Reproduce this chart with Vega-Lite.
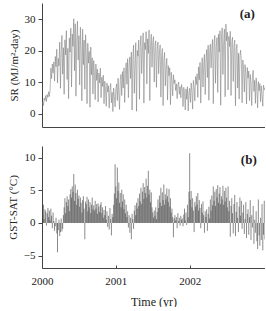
{
"$schema": "https://vega.github.io/schema/vega-lite/v6.json",
"padding": {"left": 7, "top": 3, "right": 0, "bottom": 0},
"config": {
 "view": {"stroke": null},
 "font": "Liberation Serif",
 "concat": {"spacing": 19},
 "axis": {"grid": false, "domainColor": "#444", "tickColor": "#444", "labelColor": "#222", "titleColor": "#222", "labelFontSize": 11, "titleFontSize": 11, "titleFontWeight": "normal", "labelFont": "Liberation Serif", "titleFont": "Liberation Serif", "labelFlush": false}
},
"datasets": {"d": [
{"t":2000.00,"s":1.5,"d":3.5},{"t":2000.01,"s":3.8,"d":1.2},{"t":2000.02,"s":2.6,"d":2.8},{"t":2000.03,"s":5.0,"d":0.6},{"t":2000.04,"s":4.2,"d":2.1},{"t":2000.05,"s":5.8,"d":1.8},{"t":2000.06,"s":3.9,"d":-0.4},{"t":2000.07,"s":6.1,"d":1.5},{"t":2000.08,"s":5.2,"d":2.3},{"t":2000.09,"s":7.0,"d":0.9},
{"t":2000.10,"s":5.5,"d":1.9},{"t":2000.11,"s":7.8,"d":0.4},{"t":2000.12,"s":14.5,"d":2.2},{"t":2000.13,"s":11.2,"d":1.1},{"t":2000.14,"s":15.8,"d":-0.8},{"t":2000.15,"s":13.0,"d":1.6},{"t":2000.16,"s":16.5,"d":0.3},{"t":2000.17,"s":10.4,"d":-1.2},{"t":2000.18,"s":18.2,"d":-0.5},{"t":2000.19,"s":14.9,"d":0.8},
{"t":2000.20,"s":20.5,"d":-1.6},{"t":2000.21,"s":9.8,"d":-4.5},{"t":2000.22,"s":17.6,"d":-1.1},{"t":2000.23,"s":15.2,"d":0.5},{"t":2000.24,"s":22.8,"d":-2.0},{"t":2000.25,"s":8.1,"d":-1.4},{"t":2000.26,"s":19.4,"d":0.7},{"t":2000.27,"s":24.9,"d":-1.3},{"t":2000.28,"s":12.6,"d":-0.9},{"t":2000.29,"s":21.0,"d":1.2},
{"t":2000.30,"s":6.2,"d":2.4},{"t":2000.31,"s":23.5,"d":3.8},{"t":2000.32,"s":18.7,"d":1.5},{"t":2000.33,"s":26.4,"d":3.2},{"t":2000.34,"s":10.9,"d":4.1},{"t":2000.35,"s":20.8,"d":2.6},{"t":2000.36,"s":4.8,"d":3.6},{"t":2000.37,"s":24.1,"d":1.8},{"t":2000.38,"s":19.6,"d":4.4},{"t":2000.39,"s":27.2,"d":5.2},
{"t":2000.40,"s":8.5,"d":3.9},{"t":2000.41,"s":25.3,"d":5.6},{"t":2000.42,"s":21.4,"d":4.8},{"t":2000.43,"s":30.2,"d":7.5},{"t":2000.44,"s":13.7,"d":3.4},{"t":2000.45,"s":28.6,"d":5.9},{"t":2000.46,"s":5.6,"d":4.6},{"t":2000.47,"s":22.9,"d":2.8},{"t":2000.48,"s":29.4,"d":5.1},{"t":2000.49,"s":17.1,"d":3.7},
{"t":2000.50,"s":24.8,"d":4.2},{"t":2000.51,"s":9.2,"d":2.5},{"t":2000.52,"s":27.5,"d":3.9},{"t":2000.53,"s":20.3,"d":3.1},{"t":2000.54,"s":4.1,"d":1.6},{"t":2000.55,"s":26.9,"d":3.5},{"t":2000.56,"s":15.6,"d":4.1},{"t":2000.57,"s":23.4,"d":2.2},{"t":2000.58,"s":7.8,"d":-2.5},{"t":2000.59,"s":25.1,"d":3.3},
{"t":2000.60,"s":18.9,"d":2.9},{"t":2000.61,"s":3.2,"d":4.0},{"t":2000.62,"s":22.4,"d":1.8},{"t":2000.63,"s":16.1,"d":3.6},{"t":2000.64,"s":19.8,"d":2.4},{"t":2000.65,"s":2.1,"d":3.2},{"t":2000.66,"s":21.2,"d":1.5},{"t":2000.67,"s":12.4,"d":2.8},{"t":2000.68,"s":17.8,"d":3.9},{"t":2000.69,"s":6.3,"d":2.1},
{"t":2000.70,"s":16.9,"d":2.7},{"t":2000.71,"s":13.2,"d":1.9},{"t":2000.72,"s":4.5,"d":3.4},{"t":2000.73,"s":15.8,"d":2.2},{"t":2000.74,"s":10.6,"d":2.9},{"t":2000.75,"s":14.2,"d":1.4},{"t":2000.76,"s":3.8,"d":3.0},{"t":2000.77,"s":12.9,"d":2.5},{"t":2000.78,"s":9.8,"d":1.7},{"t":2000.79,"s":14.5,"d":2.8},
{"t":2000.80,"s":5.1,"d":3.2},{"t":2000.81,"s":11.6,"d":1.5},{"t":2000.82,"s":8.7,"d":2.4},{"t":2000.83,"s":12.3,"d":0.8},{"t":2000.84,"s":3.2,"d":2.0},{"t":2000.85,"s":10.4,"d":1.2},{"t":2000.86,"s":7.6,"d":2.6},{"t":2000.87,"s":2.4,"d":0.5},{"t":2000.88,"s":9.8,"d":1.8},{"t":2000.89,"s":6.9,"d":-0.6},
{"t":2000.90,"s":8.9,"d":1.1},{"t":2000.91,"s":1.8,"d":-1.0},{"t":2000.92,"s":7.5,"d":2.3},{"t":2000.93,"s":9.6,"d":0.6},{"t":2000.94,"s":3.5,"d":-1.9},{"t":2000.95,"s":6.8,"d":1.4},{"t":2000.96,"s":0.7,"d":0.9},{"t":2000.97,"s":8.2,"d":2.8},{"t":2000.98,"s":5.4,"d":4.5},{"t":2000.99,"s":2.2,"d":9.0},
{"t":2001.00,"s":7.9,"d":5.6},{"t":2001.01,"s":9.5,"d":3.8},{"t":2001.02,"s":4.2,"d":8.5},{"t":2001.03,"s":11.3,"d":4.9},{"t":2001.04,"s":6.6,"d":6.2},{"t":2001.05,"s":1.4,"d":3.1},{"t":2001.06,"s":10.8,"d":4.6},{"t":2001.07,"s":12.5,"d":2.4},{"t":2001.08,"s":5.8,"d":5.1},{"t":2001.09,"s":13.4,"d":3.3},
{"t":2001.10,"s":8.2,"d":4.4},{"t":2001.11,"s":14.6,"d":2.1},{"t":2001.12,"s":3.6,"d":3.6},{"t":2001.13,"s":12.8,"d":1.5},{"t":2001.14,"s":16.2,"d":2.8},{"t":2001.15,"s":9.4,"d":0.9},{"t":2001.16,"s":17.5,"d":1.8},{"t":2001.17,"s":5.1,"d":-0.7},{"t":2001.18,"s":15.3,"d":1.2},{"t":2001.19,"s":18.1,"d":-1.5},
{"t":2001.20,"s":11.2,"d":0.8},{"t":2001.21,"s":19.6,"d":-2.5},{"t":2001.22,"s":1.2,"d":1.4},{"t":2001.23,"s":17.4,"d":0.6},{"t":2001.24,"s":21.8,"d":-0.9},{"t":2001.25,"s":6.5,"d":1.9},{"t":2001.26,"s":15.9,"d":2.7},{"t":2001.27,"s":22.6,"d":1.2},{"t":2001.28,"s":0.8,"d":3.1},{"t":2001.29,"s":20.1,"d":2.2},
{"t":2001.30,"s":18.3,"d":3.8},{"t":2001.31,"s":23.4,"d":2.6},{"t":2001.32,"s":4.6,"d":4.5},{"t":2001.33,"s":21.5,"d":3.3},{"t":2001.34,"s":24.8,"d":5.4},{"t":2001.35,"s":12.8,"d":2.9},{"t":2001.36,"s":19.9,"d":4.8},{"t":2001.37,"s":25.7,"d":6.1},{"t":2001.38,"s":3.4,"d":3.7},{"t":2001.39,"s":22.6,"d":5.5},
{"t":2001.40,"s":20.4,"d":4.6},{"t":2001.41,"s":26.1,"d":6.8},{"t":2001.42,"s":9.5,"d":3.9},{"t":2001.43,"s":23.8,"d":5.7},{"t":2001.44,"s":19.2,"d":8.0},{"t":2001.45,"s":26.6,"d":4.4},{"t":2001.46,"s":4.2,"d":5.1},{"t":2001.47,"s":21.7,"d":3.2},{"t":2001.48,"s":25.3,"d":4.7},{"t":2001.49,"s":14.8,"d":2.4},
{"t":2001.50,"s":22.9,"d":1.6},{"t":2001.51,"s":24.5,"d":0.8},{"t":2001.52,"s":10.1,"d":1.9},{"t":2001.53,"s":21.6,"d":1.1},{"t":2001.54,"s":23.2,"d":2.4},{"t":2001.55,"s":8.4,"d":0.6},{"t":2001.56,"s":20.5,"d":1.7},{"t":2001.57,"s":22.8,"d":3.6},{"t":2001.58,"s":12.7,"d":2.3},{"t":2001.59,"s":19.3,"d":4.2},
{"t":2001.60,"s":21.9,"d":3.1},{"t":2001.61,"s":5.3,"d":5.4},{"t":2001.62,"s":18.6,"d":2.6},{"t":2001.63,"s":20.7,"d":4.7},{"t":2001.64,"s":2.6,"d":3.5},{"t":2001.65,"s":17.2,"d":5.9},{"t":2001.66,"s":19.5,"d":2.8},{"t":2001.67,"s":8.9,"d":4.4},{"t":2001.68,"s":14.8,"d":3.6},{"t":2001.69,"s":17.6,"d":5.3},
{"t":2001.70,"s":4.4,"d":4.1},{"t":2001.71,"s":15.3,"d":3.2},{"t":2001.72,"s":12.1,"d":5.2},{"t":2001.73,"s":14.6,"d":2.5},{"t":2001.74,"s":2.9,"d":3.8},{"t":2001.75,"s":13.2,"d":1.6},{"t":2001.76,"s":10.5,"d":2.2},{"t":2001.77,"s":5.7,"d":0.9},{"t":2001.78,"s":12.4,"d":-2.2},{"t":2001.79,"s":9.6,"d":0.7},
{"t":2001.80,"s":10.8,"d":1.2},{"t":2001.81,"s":7.4,"d":0.4},{"t":2001.82,"s":9.5,"d":0.9},{"t":2001.83,"s":4.8,"d":-0.8},{"t":2001.84,"s":8.9,"d":1.5},{"t":2001.85,"s":10.1,"d":0.3},{"t":2001.86,"s":6.2,"d":0.8},{"t":2001.87,"s":8.6,"d":-0.4},{"t":2001.88,"s":5.1,"d":1.1},{"t":2001.89,"s":9.3,"d":0.5},
{"t":2001.90,"s":7.8,"d":0.7},{"t":2001.91,"s":2.3,"d":-0.5},{"t":2001.92,"s":8.4,"d":1.3},{"t":2001.93,"s":6.5,"d":2.2},{"t":2001.94,"s":1.2,"d":0.4},{"t":2001.95,"s":7.9,"d":1.6},{"t":2001.96,"s":4.6,"d":-0.3},{"t":2001.97,"s":8.6,"d":2.8},{"t":2001.98,"s":0.9,"d":0.9},{"t":2001.99,"s":6.8,"d":4.8},
{"t":2002.00,"s":8.1,"d":10.7},{"t":2002.01,"s":3.6,"d":3.6},{"t":2002.02,"s":9.8,"d":4.9},{"t":2002.03,"s":7.2,"d":2.4},{"t":2002.04,"s":1.5,"d":3.8},{"t":2002.05,"s":10.6,"d":1.9},{"t":2002.06,"s":8.4,"d":-1.4},{"t":2002.07,"s":4.1,"d":3.2},{"t":2002.08,"s":11.8,"d":2.5},{"t":2002.09,"s":9.3,"d":4.1},
{"t":2002.10,"s":12.7,"d":2.8},{"t":2002.11,"s":5.2,"d":4.6},{"t":2002.12,"s":14.9,"d":1.9},{"t":2002.13,"s":10.8,"d":3.5},{"t":2002.14,"s":16.3,"d":2.3},{"t":2002.15,"s":3.4,"d":-0.8},{"t":2002.16,"s":13.6,"d":2.9},{"t":2002.17,"s":17.8,"d":1.6},{"t":2002.18,"s":8.5,"d":3.3},{"t":2002.19,"s":15.4,"d":1.2},
{"t":2002.20,"s":18.9,"d":-1.5},{"t":2002.21,"s":6.1,"d":1.8},{"t":2002.22,"s":16.7,"d":0.9},{"t":2002.23,"s":20.4,"d":2.1},{"t":2002.24,"s":11.5,"d":-1.2},{"t":2002.25,"s":21.8,"d":1.4},{"t":2002.26,"s":4.3,"d":2.5},{"t":2002.27,"s":19.2,"d":0.7},{"t":2002.28,"s":22.1,"d":3.6},{"t":2002.29,"s":14.6,"d":1.9},
{"t":2002.30,"s":20.8,"d":4.2},{"t":2002.31,"s":23.6,"d":2.7},{"t":2002.32,"s":3.2,"d":5.6},{"t":2002.33,"s":22.4,"d":3.4},{"t":2002.34,"s":24.9,"d":4.8},{"t":2002.35,"s":9.7,"d":2.6},{"t":2002.36,"s":21.3,"d":5.2},{"t":2002.37,"s":24.2,"d":3.9},{"t":2002.38,"s":6.8,"d":5.8},{"t":2002.39,"s":25.3,"d":3.1},
{"t":2002.40,"s":19.6,"d":4.5},{"t":2002.41,"s":26.4,"d":5.5},{"t":2002.42,"s":2.7,"d":2.9},{"t":2002.43,"s":24.1,"d":4.1},{"t":2002.44,"s":27.3,"d":3.6},{"t":2002.45,"s":12.5,"d":5.7},{"t":2002.46,"s":22.8,"d":2.8},{"t":2002.47,"s":26.9,"d":4.9},{"t":2002.48,"s":5.4,"d":3.3},{"t":2002.49,"s":28.5,"d":5.4},
{"t":2002.50,"s":23.2,"d":3.9},{"t":2002.51,"s":25.9,"d":2.4},{"t":2002.52,"s":7.6,"d":5.6},{"t":2002.53,"s":24.6,"d":1.8},{"t":2002.54,"s":21.4,"d":3.4},{"t":2002.55,"s":26.2,"d":-2.1},{"t":2002.56,"s":5.8,"d":2.6},{"t":2002.57,"s":22.7,"d":3.8},{"t":2002.58,"s":24.3,"d":1.5},{"t":2002.59,"s":10.3,"d":-1.6},
{"t":2002.60,"s":21.5,"d":2.9},{"t":2002.61,"s":23.4,"d":4.3},{"t":2002.62,"s":2.5,"d":-2.0},{"t":2002.63,"s":20.6,"d":1.7},{"t":2002.64,"s":22.1,"d":3.2},{"t":2002.65,"s":8.2,"d":0.8},{"t":2002.66,"s":19.3,"d":-1.4},{"t":2002.67,"s":4.7,"d":2.5},{"t":2002.68,"s":18.4,"d":3.9},{"t":2002.69,"s":20.2,"d":1.1},
{"t":2002.70,"s":16.8,"d":3.4},{"t":2002.71,"s":3.5,"d":-0.9},{"t":2002.72,"s":17.1,"d":1.6},{"t":2002.73,"s":14.2,"d":2.8},{"t":2002.74,"s":6.9,"d":-1.7},{"t":2002.75,"s":15.6,"d":0.6},{"t":2002.76,"s":12.8,"d":3.2},{"t":2002.77,"s":3.1,"d":-2.3},{"t":2002.78,"s":14.7,"d":1.4},{"t":2002.79,"s":11.3,"d":2.1},
{"t":2002.80,"s":13.6,"d":-1.8},{"t":2002.81,"s":4.2,"d":0.9},{"t":2002.82,"s":12.5,"d":3.5},{"t":2002.83,"s":9.8,"d":-2.6},{"t":2002.84,"s":2.6,"d":1.2},{"t":2002.85,"s":11.9,"d":-0.7},{"t":2002.86,"s":13.8,"d":2.6},{"t":2002.87,"s":7.1,"d":-3.2},{"t":2002.88,"s":10.6,"d":0.5},{"t":2002.89,"s":3.3,"d":-1.5},
{"t":2002.90,"s":11.4,"d":1.8},{"t":2002.91,"s":8.5,"d":-2.8},{"t":2002.92,"s":1.9,"d":-4.0},{"t":2002.93,"s":10.2,"d":3.6},{"t":2002.94,"s":7.3,"d":-1.9},{"t":2002.95,"s":9.6,"d":-3.5},{"t":2002.96,"s":3.8,"d":0.8},{"t":2002.97,"s":8.9,"d":-2.6},{"t":2002.98,"s":6.2,"d":2.9},{"t":2002.99,"s":2.4,"d":-4.2},
{"t":2003.00,"s":9.1,"d":-1.8},{"t":2003.01,"s":7.6,"d":3.4},{"t":2003.02,"s":8.2,"d":-2.5}
],
"la": [{"t":2002.78,"v":31.8,"lab":"(a)"}],
"lb": [{"t":2002.8,"v":9.6,"lab":"(b)"}]
},
"vconcat": [
 {
  "width": 223, "height": 124,
  "layer": [
   {
    "data": {"name": "d"},
    "mark": {"type": "line", "color": "#7a7a7a", "strokeWidth": 0.55, "clip": true},
    "encoding": {
     "x": {"field": "t", "type": "quantitative", "scale": {"domain": [2000, 2003.02], "nice": false, "zero": false},
           "axis": {"labels": false, "ticks": false, "title": null}},
     "y": {"field": "s", "type": "quantitative", "scale": {"domain": [-4.2, 35.2], "nice": false, "zero": false},
           "axis": {"values": [0, 10, 20, 30], "tickSize": 4, "labelPadding": 3, "title": "SR (MJ/m²-day)", "titlePadding": 5}}
    }
   },
   {
    "data": {"name": "la"},
    "mark": {"type": "text", "fontSize": 13, "fontWeight": "bold", "font": "Liberation Serif", "color": "#222"},
    "encoding": {
     "x": {"field": "t", "type": "quantitative"},
     "y": {"field": "v", "type": "quantitative"},
     "text": {"field": "lab"}
    }
   }
  ]
 },
 {
  "width": 223, "height": 122,
  "layer": [
   {
    "data": {"name": "d"},
    "mark": {"type": "rule", "color": "#3a3a3a", "strokeWidth": 0.8, "opacity": 0.75, "clip": true},
    "encoding": {
     "x": {"field": "t", "type": "quantitative", "scale": {"domain": [2000, 2003.02], "nice": false, "zero": false},
           "axis": {"values": [2000, 2001, 2002], "format": "d", "tickSize": -3, "labelPadding": 10, "title": "Time (yr)", "titleFontSize": 12, "titlePadding": 10}},
     "y": {"field": "d", "type": "quantitative", "scale": {"domain": [-6.9, 11.8], "nice": false, "zero": false},
           "axis": {"values": [-5, 0, 5, 10], "tickSize": 4, "labelPadding": 3, "title": "GST-SAT (°C)", "titlePadding": 5}},
     "y2": {"datum": 0}
    }
   },
   {
    "mark": {"type": "rule", "color": "#333", "strokeWidth": 0.7},
    "encoding": {"y": {"datum": 0}}
   },
   {
    "data": {"name": "lb"},
    "mark": {"type": "text", "fontSize": 13, "fontWeight": "bold", "font": "Liberation Serif", "color": "#222"},
    "encoding": {
     "x": {"field": "t", "type": "quantitative"},
     "y": {"field": "v", "type": "quantitative"},
     "text": {"field": "lab"}
    }
   }
  ]
 }
]
}
